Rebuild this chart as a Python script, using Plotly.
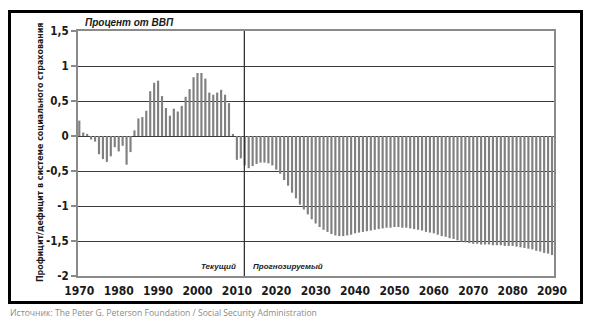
import plotly.graph_objects as go

# Social security surplus / deficit, % of GDP (actual to 2011, projected after)
years = list(range(1970, 2091))
balance = [
    0.22, 0.05, 0.03, -0.05, -0.08, -0.26, -0.33, -0.37, -0.29, -0.16,   # 1970-1979
    -0.22, -0.14, -0.41, -0.23, 0.08, 0.25, 0.27, 0.36, 0.64, 0.76,      # 1980-1989
    0.79, 0.57, 0.40, 0.29, 0.39, 0.35, 0.43, 0.56, 0.67, 0.84,          # 1990-1999
    0.90, 0.90, 0.82, 0.62, 0.59, 0.62, 0.66, 0.59, 0.47, 0.03,          # 2000-2009
    -0.34, -0.32, -0.42, -0.46, -0.43, -0.40, -0.38, -0.38, -0.39, -0.42,  # 2010-2019
    -0.48, -0.54, -0.63, -0.71, -0.81, -0.89, -0.98, -1.05, -1.12, -1.19,  # 2020-2029
    -1.25, -1.30, -1.34, -1.37, -1.40, -1.42, -1.43, -1.43, -1.42, -1.41,  # 2030-2039
    -1.39, -1.38, -1.37, -1.36, -1.35, -1.34, -1.33, -1.32, -1.31, -1.31,  # 2040-2049
    -1.30, -1.30, -1.31, -1.31, -1.32, -1.33, -1.34, -1.35, -1.37, -1.38,  # 2050-2059
    -1.39, -1.41, -1.43, -1.44, -1.46, -1.47, -1.49, -1.51, -1.52, -1.53,  # 2060-2069
    -1.54, -1.54, -1.55, -1.55, -1.55, -1.56, -1.56, -1.56, -1.57, -1.57,  # 2070-2079
    -1.57, -1.58, -1.59, -1.60, -1.61, -1.62, -1.64, -1.65, -1.67, -1.68,  # 2080-2089
    -1.70,                                                                 # 2090
]
assert len(balance) == len(years)

x_tick_vals = list(range(1970, 2091, 10))
y_tick_vals = [1.5, 1, 0.5, 0, -0.5, -1, -1.5, -2]
y_tick_text = ["1,5", "1", "0,5", "0", "-0,5", "-1", "-1,5", "-2"]

forecast_start = 2012

title_text = "Процент от ВВП"
y_title = "Профицит/дефицит в системе социального страхования"
label_actual = "Текущий"
label_forecast = "Прогнозируемый"
source_text = "Источник: The Peter G. Peterson Foundation / Social Security Administration"

W, H = 592, 334
ML, MR, MT, MB = 78, 38, 31, 58
PW, PH = W - ML - MR, H - MT - MB


def px_x(px):
    return (px - ML) / PW


def px_y(py):
    return (H - MB - py) / PH


NARROW = "DejaVu Sans Condensed, Roboto, sans-serif"
ITALIC = "Liberation Sans, Arial, sans-serif"
BAR_GREY = "#808080"
FRAME_GREY = "#8a8a8a"
GRID = "#3c3c3c"
INK = "#1a1a1a"

fig = go.Figure(
    go.Bar(
        x=years,
        y=balance,
        marker=dict(color=BAR_GREY, line=dict(width=0)),
        hoverinfo="x+y",
    )
)

fig.update_layout(
    width=W,
    height=H,
    margin=dict(l=ML, r=MR, t=MT, b=MB),
    paper_bgcolor="white",
    plot_bgcolor="white",
    bargap=0.45,
    showlegend=False,
    font=dict(family=NARROW, color=INK),
)

fig.update_xaxes(
    range=[1969.67, 2090.5],
    tickvals=x_tick_vals,
    ticks="",
    showgrid=False,
    zeroline=False,
    showline=True,
    mirror=True,
    linecolor=FRAME_GREY,
    linewidth=2,
    tickfont=dict(family=NARROW, size=12, color=INK, weight="bold"),
    ticklabelstandoff=3,
)

fig.update_yaxes(
    range=[-2, 1.5],
    tickvals=y_tick_vals,
    ticktext=y_tick_text,
    ticks="outside",
    ticklen=5,
    tickwidth=1.5,
    tickcolor=FRAME_GREY,
    showgrid=True,
    gridcolor=GRID,
    gridwidth=1,
    zeroline=True,
    zerolinecolor=GRID,
    zerolinewidth=1,
    showline=True,
    mirror=True,
    linecolor=FRAME_GREY,
    linewidth=2,
    tickfont=dict(family=NARROW, size=11.5, color=INK, weight="bold"),
)

shapes = [
    # divider between reported and projected years
    dict(type="line", xref="x", yref="paper", x0=forecast_start - 0.1, x1=forecast_start - 0.1,
         y0=0, y1=1, line=dict(color="#333333", width=1.3), layer="above"),
    # outer black frame
    dict(type="rect", xref="paper", yref="paper",
         x0=px_x(9.5), x1=px_x(581.5), y0=px_y(302.5), y1=px_y(11.5),
         line=dict(color="black", width=3), layer="above"),
]

annotations = [
    dict(text=f"<b><i>{title_text}</i></b>", xref="paper", yref="paper",
         x=px_x(83), y=px_y(22.5), xanchor="left", yanchor="middle", showarrow=False,
         font=dict(family=ITALIC, size=10, color=INK)),
    dict(text=f"<b>{y_title}</b>", xref="paper", yref="paper", textangle=-90,
         x=px_x(40), y=px_y(153), xanchor="center", yanchor="middle", showarrow=False,
         font=dict(family=NARROW, size=8.8, color=INK)),
    dict(text=f"<b><i>{label_actual}</i></b>", xref="x", yref="y",
         x=2010.2, y=-1.86, xanchor="right", yanchor="middle", showarrow=False,
         font=dict(family=ITALIC, size=8, color=INK)),
    dict(text=f"<b><i>{label_forecast}</i></b>", xref="x", yref="y",
         x=2013.5, y=-1.86, xanchor="left", yanchor="middle", showarrow=False,
         font=dict(family=ITALIC, size=8, color=INK)),
    dict(text=source_text, xref="paper", yref="paper",
         x=px_x(8), y=px_y(313), xanchor="left", yanchor="middle", showarrow=False,
         font=dict(family="Open Sans, Liberation Sans, sans-serif", size=8.6, color="#8a8a8a")),
]

fig.update_layout(shapes=shapes, annotations=annotations)

fig.write_html("out.html")
